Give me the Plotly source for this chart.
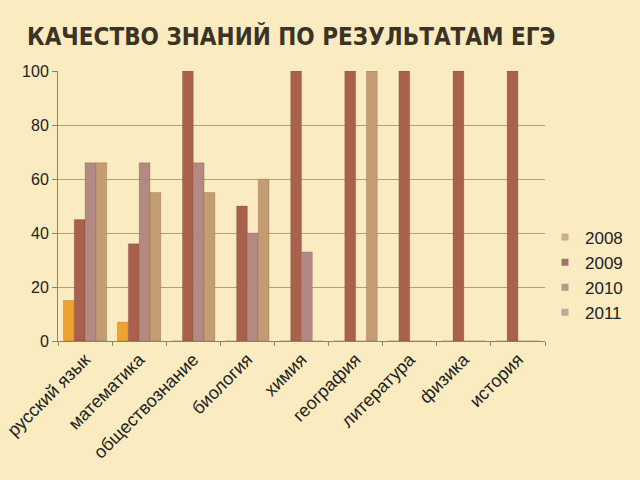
import plotly.graph_objects as go

categories = ["русский язык", "математика", "обществознание", "биология", "химия",
              "география", "литература", "физика", "история"]
years = ["2008", "2009", "2010", "2011"]
v2008 = [15, 7, 0, 0, 0, 0, 0, 0, 0]
v2009 = [45, 36, 100, 50, 100, 100, 100, 100, 100]
v2010 = [66, 66, 66, 40, 33, 0, 0, 0, 0]
v2011 = [66, 55, 55, 60, 0, 100, 0, 0, 0]
series = [v2008, v2009, v2010, v2011]
bar_colors = ["#EFA22E", "#A9604D", "#B38A83", "#C49C72"]
legend_colors = ["#C9AE8A", "#A27466", "#B39890", "#BDAA98"]
y_ticks = [0, 20, 40, 60, 80, 100]

fig = go.Figure()
for name, vals, col in zip(years, series, bar_colors):
    fig.add_trace(go.Bar(x=categories, y=vals, name=name, showlegend=False,
                         marker=dict(color=col, line=dict(color="rgba(90,60,40,0.35)", width=0.6))))
for name, col in zip(years, legend_colors):
    fig.add_trace(go.Scatter(x=[None], y=[None], mode="markers", name=name,
                             marker=dict(symbol="square", size=7, color=col)))

fig.update_layout(
    width=640, height=480,
    paper_bgcolor="#FAEBC0", plot_bgcolor="rgba(0,0,0,0)",
    margin=dict(l=58, r=88, t=71, b=139),
    bargap=0.2, bargroupgap=0,
    font=dict(family="Liberation Sans, Arial", color="#222222"),
    title=dict(text="<b>КАЧЕСТВО ЗНАНИЙ ПО РЕЗУЛЬТАТАМ ЕГЭ</b>",
               font=dict(family="DejaVu Sans Condensed, Liberation Sans", size=24, color="#3A3326"),
               x=27 / 640, xanchor="left", y=1 - 37 / 480, yanchor="middle"),
    legend=dict(x=1.0, xanchor="left", y=0.45, yanchor="top",
                font=dict(size=17, color="#222222"), bgcolor="rgba(0,0,0,0)",
                itemwidth=30, tracegroupgap=0),
    xaxis=dict(showline=True, linecolor="#8F8462", linewidth=1, ticks="outside",
               tickson="boundaries", ticklen=4, tickcolor="#8F8462", tickangle=-45,
               tickfont=dict(size=18, color="#222222"), showgrid=False, automargin=False),
    yaxis=dict(range=[0, 100], tickvals=y_ticks, showline=True, linecolor="#8F8462",
               linewidth=1, ticks="outside", ticklen=5, tickcolor="#8F8462",
               gridcolor="#ADA274", gridwidth=1, tickfont=dict(size=16, color="#222222"),
               zeroline=False, automargin=False),
)
fig.write_html("out.html")
